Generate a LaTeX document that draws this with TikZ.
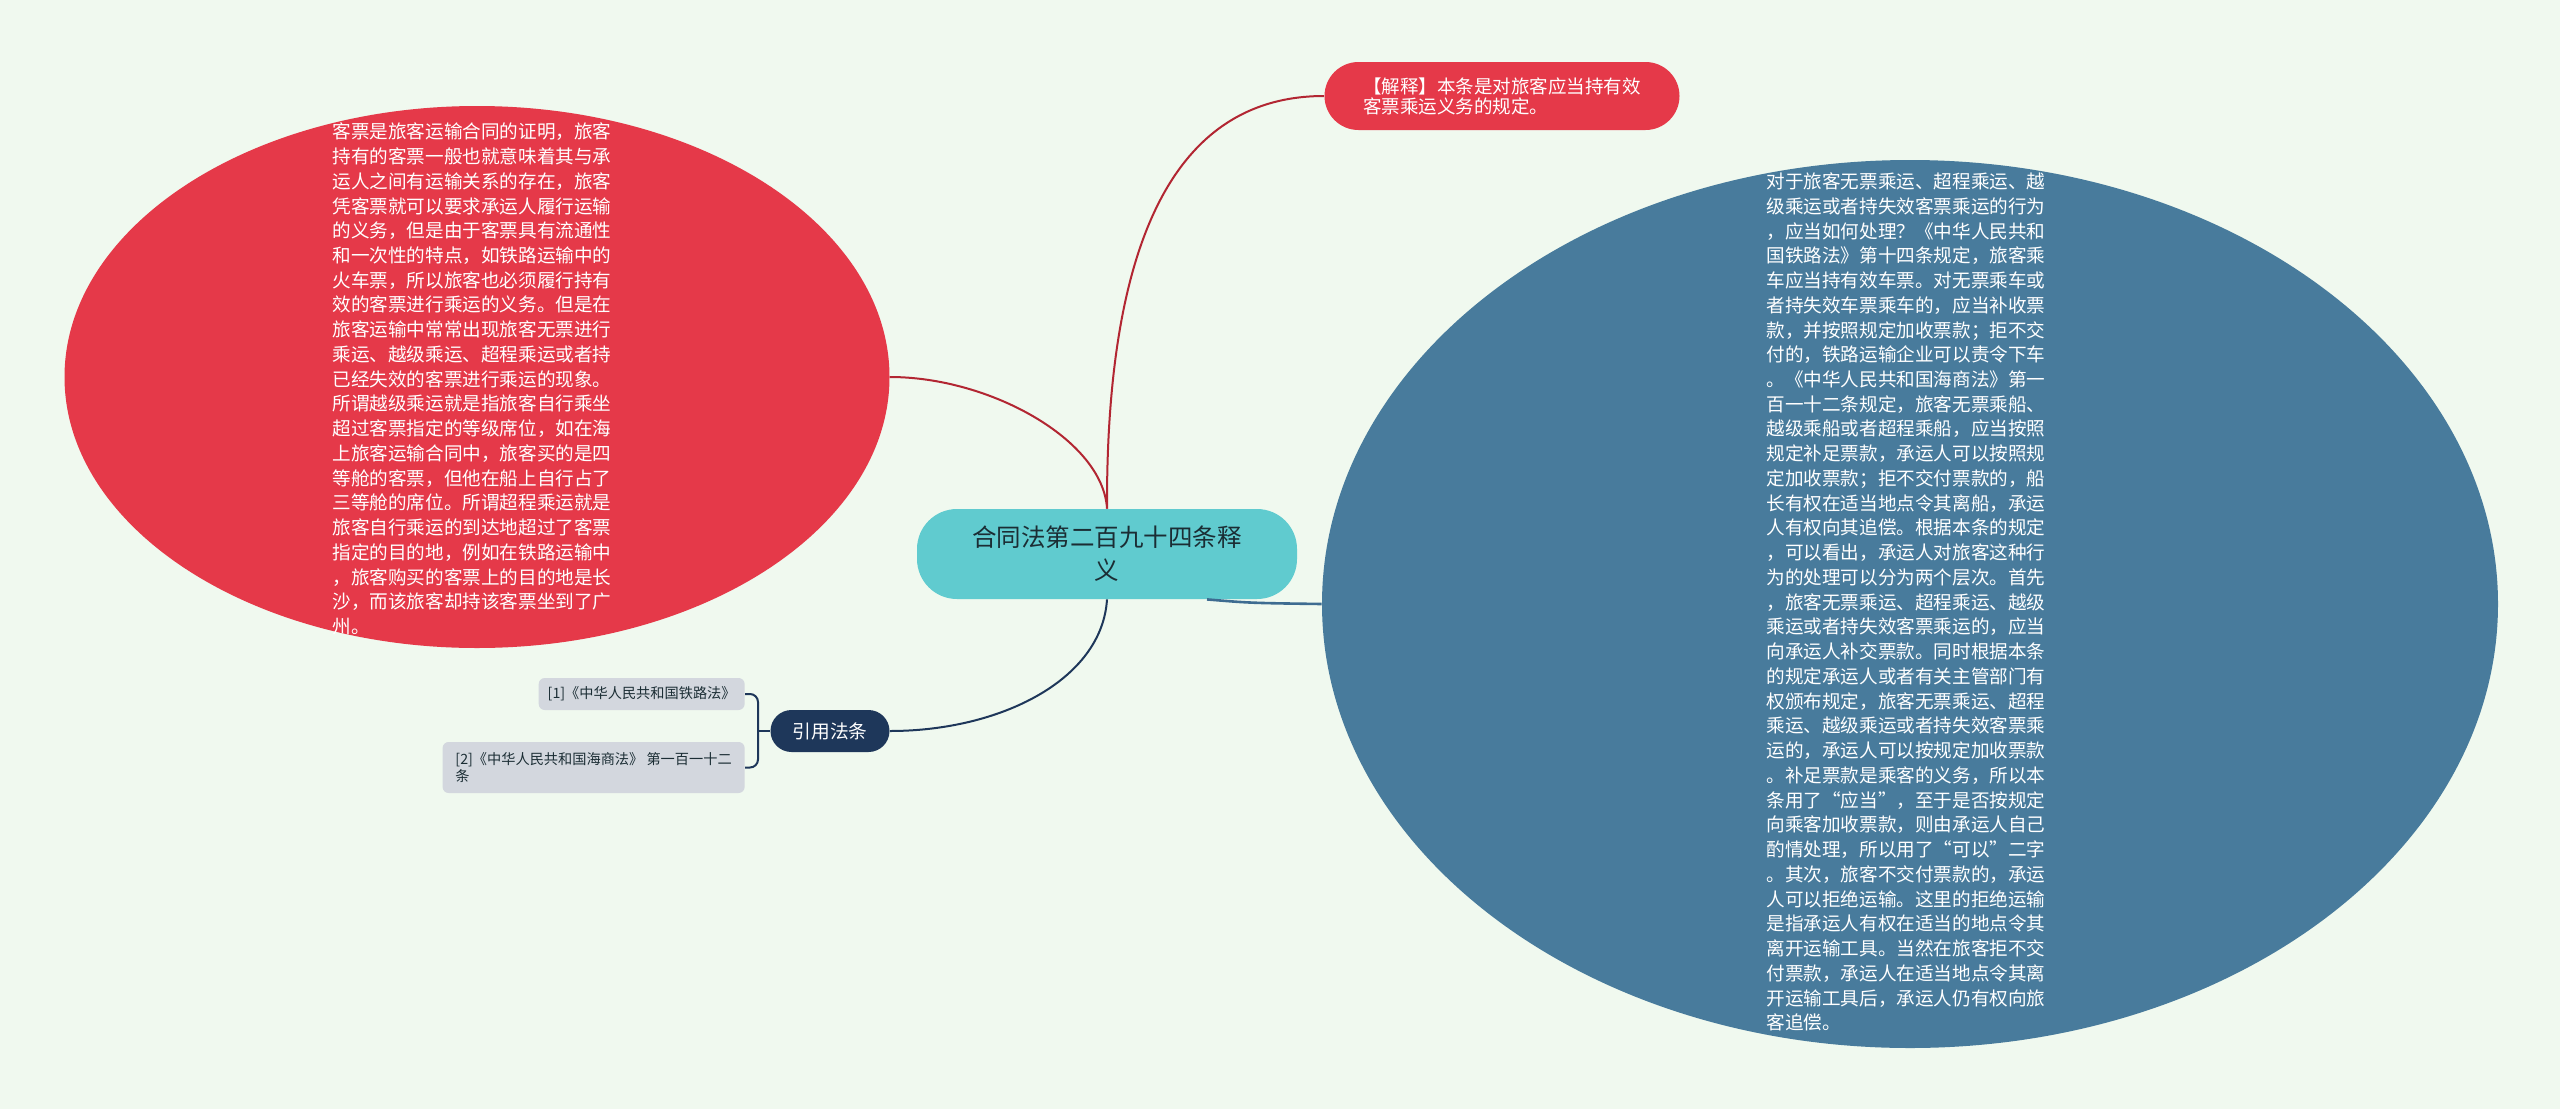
\documentclass[tikz,border=0pt]{standalone}
\usepackage{fontspec}
\setmainfont{Noto Sans CJK SC}
\usetikzlibrary{shapes.geometric,calc}
\definecolor{bgmint}{RGB}{240,249,239}
\definecolor{redfill}{RGB}{229,57,73}
\definecolor{redline}{RGB}{178,38,50}
\definecolor{bluefill}{RGB}{72,123,156}
\definecolor{blueline}{RGB}{62,108,145}
\definecolor{tealfill}{RGB}{96,203,207}
\definecolor{navyfill}{RGB}{30,55,90}
\definecolor{citefill}{RGB}{211,215,222}
\definecolor{darktext}{RGB}{27,45,52}
\tikzset{
    blob/.style={ellipse, inner sep=0pt},
    blobtext/.style={inner sep=0pt, text=white, align=left, font=\fontsize{9.3pt}{12.37pt}\selectfont},
    rootbox/.style={fill=tealfill, text=darktext, rounded corners=20pt, minimum width=190pt, minimum height=45pt, align=center, font=\fontsize{12.25pt}{16.5pt}\selectfont},
    notebox/.style={fill=redfill, text=white, rounded corners=17pt, minimum width=177.5pt, minimum height=34pt, align=left, font=\fontsize{9.25pt}{10pt}\selectfont},
    hubbox/.style={fill=navyfill, text=white, rounded corners=10.5pt, minimum width=59.5pt, minimum height=21pt, font=\fontsize{9.35pt}{11pt}\selectfont},
    refbox/.style={fill=citefill, text=darktext, rounded corners=3pt, inner xsep=4.5pt, anchor=east, align=left, font=\fontsize{7.1pt}{8.35pt}\selectfont},
    conn/.style={line width=1pt}
}
\begin{document}
\begin{tikzpicture}[x=0.5pt,y=-0.5pt]
        \fill[bgmint] (0,0) rectangle (2560,1109);
        \useasboundingbox (0,0) rectangle (2560,1109);

        \node[rootbox] (root) at (1107,554) {合同法第二百九十四条释\\义};
        \node[notebox] (note) at (1502,96) {【解释】本条是对旅客应当持有效\\客票乘运义务的规定。};

        \node[blob, fill=redfill, minimum width=412.5pt, minimum height=271pt] (redel) at (477,377) {};
        \node[blobtext] (redtxt) at (472,379) {客票是旅客运输合同的证明，旅客\\持有的客票一般也就意味着其与承\\运人之间有运输关系的存在，旅客\\凭客票就可以要求承运人履行运输\\的义务，但是由于客票具有流通性\\和一次性的特点，如铁路运输中的\\火车票，所以旅客也必须履行持有\\效的客票进行乘运的义务。但是在\\旅客运输中常常出现旅客无票进行\\乘运、越级乘运、超程乘运或者持\\已经失效的客票进行乘运的现象。\\所谓越级乘运就是指旅客自行乘坐\\超过客票指定的等级席位，如在海\\上旅客运输合同中，旅客买的是四\\等舱的客票，但他在船上自行占了\\三等舱的席位。所谓超程乘运就是\\旅客自行乘运的到达地超过了客票\\指定的目的地，例如在铁路运输中\\，旅客购买的客票上的目的地是长\\沙，而该旅客却持该客票坐到了广\\州。};

        \node[blob, fill=bluefill, minimum width=588pt, minimum height=444pt] (blueel) at (1910,604) {};
        \node[blobtext] (bluetxt) at (1906,602) {对于旅客无票乘运、超程乘运、越\\级乘运或者持失效客票乘运的行为\\，应当如何处理？《中华人民共和\\国铁路法》第十四条规定，旅客乘\\车应当持有效车票。对无票乘车或\\者持失效车票乘车的，应当补收票\\款，并按照规定加收票款；拒不交\\付的，铁路运输企业可以责令下车\\。《中华人民共和国海商法》第一\\百一十二条规定，旅客无票乘船、\\越级乘船或者超程乘船，应当按照\\规定补足票款，承运人可以按照规\\定加收票款；拒不交付票款的，船\\长有权在适当地点令其离船，承运\\人有权向其追偿。根据本条的规定\\，可以看出，承运人对旅客这种行\\为的处理可以分为两个层次。首先\\，旅客无票乘运、超程乘运、越级\\乘运或者持失效客票乘运的，应当\\向承运人补交票款。同时根据本条\\的规定承运人或者有关主管部门有\\权颁布规定，旅客无票乘运、超程\\乘运、越级乘运或者持失效客票乘\\运的，承运人可以按规定加收票款\\。补足票款是乘客的义务，所以本\\条用了“应当”，至于是否按规定\\向乘客加收票款，则由承运人自己\\酌情处理，所以用了“可以”二字\\。其次，旅客不交付票款的，承运\\人可以拒绝运输。这里的拒绝运输\\是指承运人有权在适当的地点令其\\离开运输工具。当然在旅客拒不交\\付票款，承运人在适当地点令其离\\开运输工具后，承运人仍有权向旅\\客追偿。};

        \node[hubbox] (cite) at (830,731) {引用法条};
        \node[refbox, minimum height=16pt] (ref1) at (745,694) {[1]《中华人民共和国铁路法》};
        \node[refbox, minimum height=25.5pt, minimum width=151pt] (ref2) at (745,767.5) {[2]《中华人民共和国海商法》 第一百一十二\\条};
        \coordinate (brk) at (758,731);

        \draw[conn, redline] (root.north) .. controls (1106,233) and (1179,96) .. (note.west);
        \draw[conn, redline] (root.north) .. controls (1103,440) and (990,377) .. (redel.east);
        \draw[conn, navyfill] (root.south) .. controls (1102,680) and (1000,731) .. (cite.east);
        \draw[conn, blueline, line width=1.3pt] ($(root.south)+(100,0)$) .. controls (1250,603) .. (blueel.west);
        \draw[conn, navyfill, rounded corners=4pt] (ref1.east) -| (brk) |- (ref2.east);
        \draw[conn, navyfill] (brk) -- (cite.west);
\end{tikzpicture}
\end{document}
